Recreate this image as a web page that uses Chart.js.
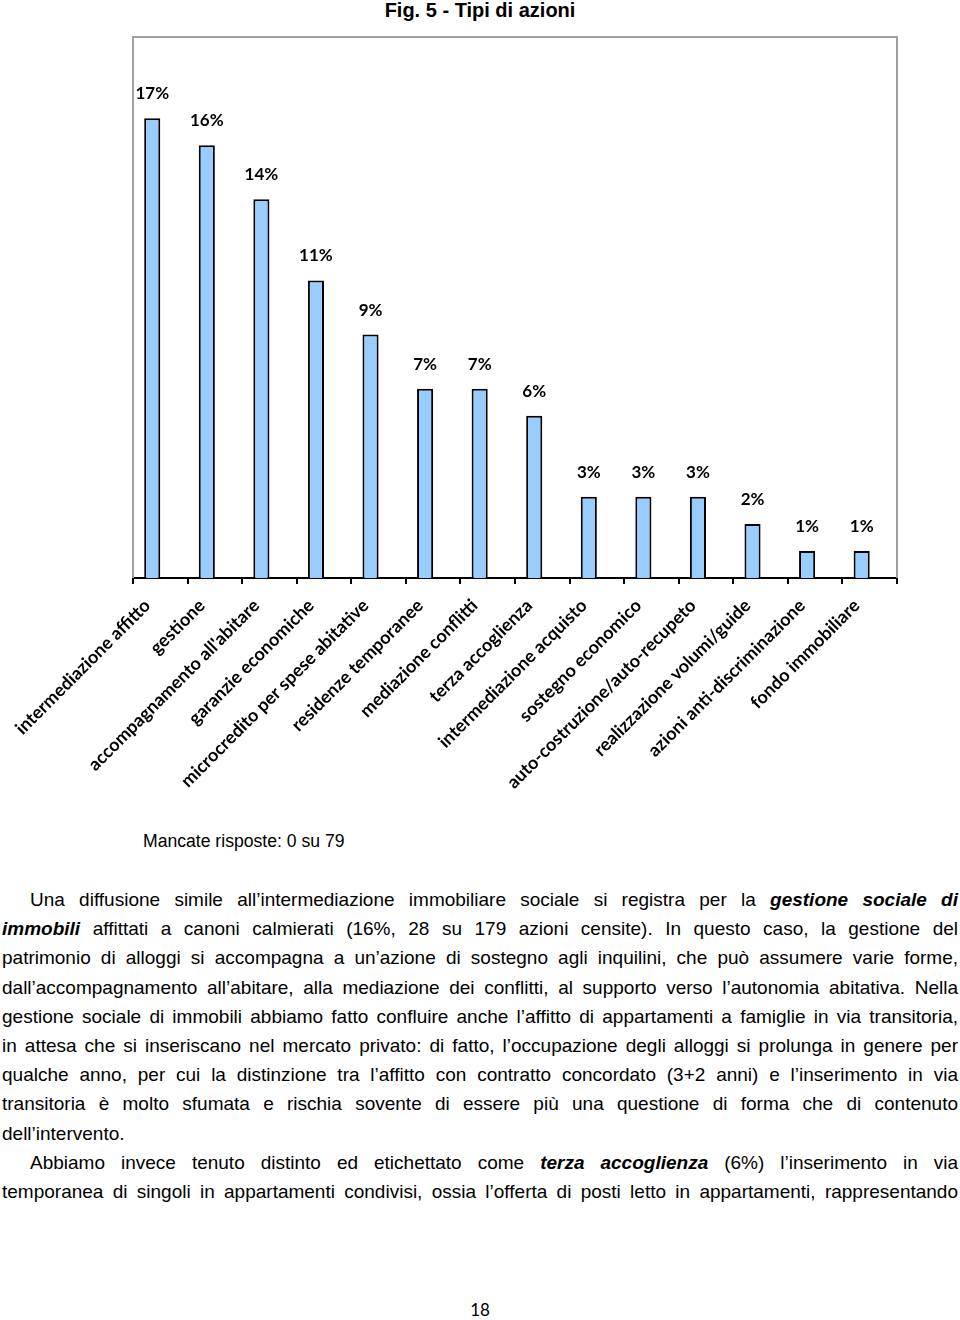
<!DOCTYPE html>
<html lang="it">
<head>
<meta charset="utf-8">
<title>Fig. 5 - Tipi di azioni</title>
<script src="https://cdn.jsdelivr.net/npm/chart.js@4.4.1/dist/chart.umd.min.js"></script>
<style>
  html, body { margin: 0; padding: 0; background: #fff; }
  body { width: 960px; height: 1320px; position: relative; overflow: hidden; font-family: "Liberation Sans", Arial, sans-serif; color: #000; }
  #title { position: absolute; top: -1px; left: 0; width: 960px; text-align: center; font-weight: bold; font-size: 20px; line-height: 22px; }
  #chartBox { position: absolute; top: 0; left: 0; width: 960px; height: 810px; }
  #note { position: absolute; left: 143px; top: 831px; font-size: 17.6px; line-height: 20px; }
  #text { position: absolute; left: 2px; top: 885px; width: 956px; font-size: 19px; line-height: 29.2px; }
  #text .l { white-space: nowrap; }
  #text .ind { padding-left: 28px; }
  #page { position: absolute; top: 1298px; left: 0; width: 960px; text-align: center; font-family: Lato, sans-serif; font-size: 17px; line-height: 24px; }
</style>
</head>
<body>
<div id="title">Fig. 5 - Tipi di azioni</div>
<div id="chartBox"><canvas id="chart" width="960" height="810"></canvas></div>
<div id="note">Mancate risposte: 0 su 79</div>
<div id="text">
  <div class="l ind"><span>Una diffusione simile all’intermediazione immobiliare sociale si registra per la <b><i>gestione sociale di</i></b></span></div>
  <div class="l"><span><b><i>immobili</i></b> affittati a canoni calmierati (16%, 28 su 179 azioni censite). In questo caso, la gestione del</span></div>
  <div class="l"><span>patrimonio di alloggi si accompagna a un’azione di sostegno agli inquilini, che può assumere varie forme,</span></div>
  <div class="l"><span>dall’accompagnamento all’abitare, alla mediazione dei conflitti, al supporto verso l’autonomia abitativa. Nella</span></div>
  <div class="l"><span>gestione sociale di immobili abbiamo fatto confluire anche l’affitto di appartamenti a famiglie in via transitoria,</span></div>
  <div class="l"><span>in attesa che si inseriscano nel mercato privato: di fatto, l’occupazione degli alloggi si prolunga in genere per</span></div>
  <div class="l"><span>qualche anno, per cui la distinzione tra l’affitto con contratto concordato (3+2 anni) e l’inserimento in via</span></div>
  <div class="l"><span>transitoria è molto sfumata e rischia sovente di essere più una questione di forma che di contenuto</span></div>
  <div class="l end"><span>dell’intervento.</span></div>
  <div class="l ind"><span>Abbiamo invece tenuto distinto ed etichettato come <b><i>terza accoglienza</i></b> (6%) l’inserimento in via</span></div>
  <div class="l"><span>temporanea di singoli in appartamenti condivisi, ossia l’offerta di posti letto in appartamenti, rappresentando</span></div>
</div>
<div id="page">18</div>

<script>
// Fig. 5 - Tipi di azioni : quota di azioni per tipo (%)

const categories = [
  'intermediazione affitto',
  'gestione',
  "accompagnamento all'abitare",
  'garanzie economiche',
  'microcredito per spese abitative',
  'residenze temporanee',
  'mediazione conflitti',
  'terza accoglienza',
  'intermediazione acquisto',
  'sostegno economico',
  'auto-costruzione/auto-recupeto',
  'realizzazione volumi/guide',
  'azioni anti-discriminazione',
  'fondo immobiliare'
];

const percentages = [17, 16, 14, 11, 9, 7, 7, 6, 3, 3, 3, 2, 1, 1];

// seconda serie vuota (come nel grafico originale, sposta le barre a sinistra)
const emptySeries = [];

const yMin = 0;
const yMax = 20;

// giustifica ogni riga del testo regolando lo spazio tra le parole
document.querySelectorAll('#text .l').forEach(line => {
  if (line.classList.contains('end')) return;
  const span = line.querySelector('span');
  const avail = line.clientWidth - parseFloat(getComputedStyle(line).paddingLeft);
  const gaps = (span.textContent.match(/ /g) || []).length;
  const w = span.getBoundingClientRect().width;
  if (gaps) span.style.wordSpacing = ((avail - w) / gaps) + 'px';
});

// etichette dei valori sopra le barre
const valueLabels = {
  id: 'valueLabels',
  afterDatasetsDraw(chart) {
    const ctx = chart.ctx;
    const meta = chart.getDatasetMeta(0);
    ctx.save();
    ctx.font = 'bold 17px Lato';
    ctx.fillStyle = '#000';
    ctx.textAlign = 'center';
    ctx.textBaseline = 'alphabetic';
    meta.data.forEach((bar, i) => {
      ctx.fillText(percentages[i] + '%', bar.x, bar.y - 19);
    });
    ctx.restore();
  }
};

// cornice grigia dell'area del grafico (sinistra, alto, destra)
const plotFrame = {
  id: 'plotFrame',
  beforeDatasetsDraw(chart) {
    const { left, top, right, bottom } = chart.chartArea;
    const ctx = chart.ctx;
    ctx.save();
    ctx.strokeStyle = '#a0a0a0';
    ctx.lineWidth = 2;
    ctx.beginPath();
    ctx.moveTo(left, bottom);
    ctx.lineTo(left, top);
    ctx.lineTo(right, top);
    ctx.lineTo(right, bottom);
    ctx.stroke();
    ctx.restore();
  }
};

Chart.defaults.font.family = 'Lato';
Chart.defaults.color = '#000';

const ctx = document.getElementById('chart').getContext('2d');
new Chart(ctx, {
  type: 'bar',
  data: {
    labels: categories,
    datasets: [
      {
        label: 'Tipi di azioni',
        data: percentages,
        backgroundColor: '#99ccff',
        borderColor: '#000',
        borderWidth: 2,
        categoryPercentage: 0.59,
        barPercentage: 1
      },
      {
        label: '',
        data: emptySeries,
        categoryPercentage: 0.59,
        barPercentage: 1
      }
    ]
  },
  options: {
    responsive: false,
    animation: false,
    layout: { padding: { left: 133, right: 63, top: 37, bottom: 0 } },
    plugins: {
      legend: { display: false },
      tooltip: { enabled: false },
      title: { display: false }
    },
    scales: {
      x: {
        grid: {
          offset: true,
          drawOnChartArea: false,
          drawTicks: true,
          tickLength: 6,
          color: '#000',
          lineWidth: 2
        },
        border: { color: '#000', width: 2 },
        ticks: {
          autoSkip: false,
          minRotation: 45,
          maxRotation: 45,
          padding: 11,
          labelOffset: -13,
          color: '#000',
          font: { family: 'Lato', weight: 'bold', size: 18 }
        },
        afterFit(scale) { scale.height = 232; }
      },
      y: {
        display: false,
        min: yMin,
        max: yMax
      }
    }
  },
  plugins: [plotFrame, valueLabels]
});
</script>
</body>
</html>
